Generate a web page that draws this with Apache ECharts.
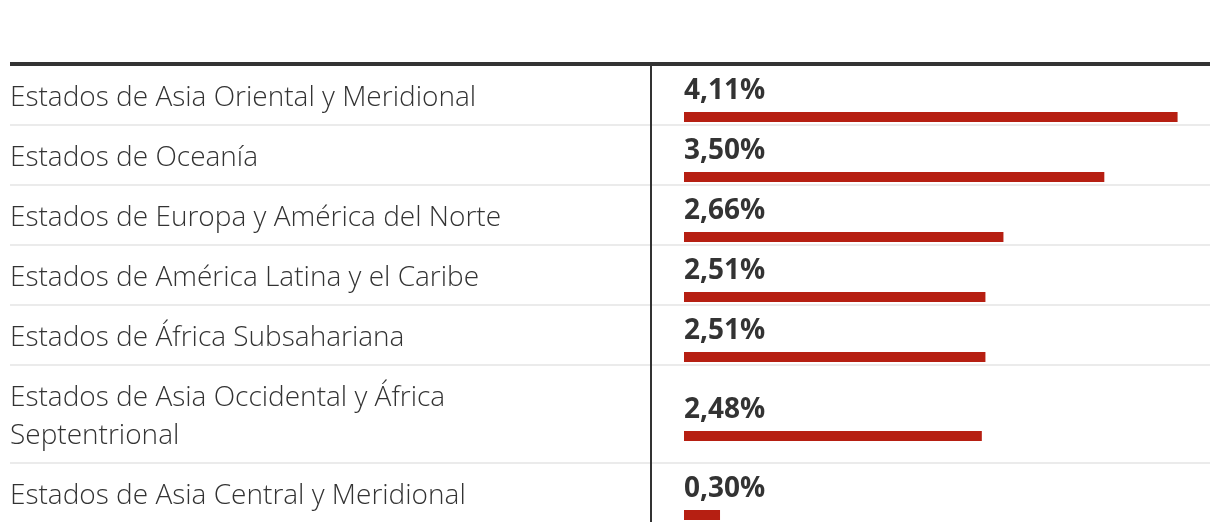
<!DOCTYPE html>
<html>
<head>
<meta charset="utf-8">
<script src="https://cdn.jsdelivr.net/npm/echarts@6/dist/echarts.min.js"></script>
<style>
html,body{margin:0;padding:0;background:#fff;}
#chart{width:1220px;height:532px;}
</style>
</head>
<body>
<div id="chart"></div>
<script>
const categories = [
  'Estados de Asia Oriental y Meridional',
  'Estados de Oceanía',
  'Estados de Europa y América del Norte',
  'Estados de América Latina y el Caribe',
  'Estados de África Subsahariana',
  'Estados de Asia Occidental y África Septentrional',
  'Estados de Asia Central y Meridional'
];
const values = [4.11, 3.50, 2.66, 2.51, 2.51, 2.48, 0.30];

const FONT = "'Open Sans', 'Noto Sans', sans-serif";
const LABEL_FONT_SIZE = 28;
const LINE_H = 38;
const WRAP_W = 560;
const ROW_H = 60;
const TOP = 65;
const LEFT_X = 10;
const RIGHT_X = 1210;
const DIVIDER_X = 651;
const BAR_LEFT = 684;
const BAR_SHIFT = 44;
const LABEL_SHIFT = 3;

const ctx = document.createElement('canvas').getContext('2d');
ctx.font = '300 ' + LABEL_FONT_SIZE + 'px ' + FONT;
function wrap(text) {
  const words = text.split(' ');
  const lines = [];
  let cur = '';
  words.forEach(w => {
    const t = cur ? cur + ' ' + w : w;
    if (ctx.measureText(t).width > WRAP_W && cur) { lines.push(cur); cur = w; }
    else cur = t;
  });
  if (cur) lines.push(cur);
  return lines;
}

const grids = [], xAxes = [], yAxes = [], series = [], graphics = [];
let y = TOP;
categories.forEach((cat, i) => {
  const lines = wrap(cat);
  const h = ROW_H + (lines.length - 1) * LINE_H;
  const gL = grids.length;
  // label grid: spans the whole row
  grids.push({ left: BAR_LEFT, right: 10, top: y + LABEL_SHIFT, height: h });
  xAxes.push({ gridIndex: gL, type: 'value', min: 0, max: 4.38, show: false });
  yAxes.push({
    gridIndex: gL, type: 'category', data: [lines.join('\n')],
    axisLine: { show: false }, axisTick: { show: false }, splitLine: { show: false },
    axisLabel: {
      align: 'left', margin: BAR_LEFT - LEFT_X, fontFamily: FONT, fontWeight: 300,
      fontSize: LABEL_FONT_SIZE, lineHeight: LINE_H, color: '#333', verticalAlign: 'middle'
    }
  });
  // bar grid: lower part of the row
  const gB = grids.length;
  grids.push({ left: BAR_LEFT, right: 10, top: y + BAR_SHIFT, height: h - BAR_SHIFT });
  xAxes.push({ gridIndex: gB, type: 'value', min: 0, max: 4.38, show: false });
  yAxes.push({ gridIndex: gB, type: 'category', data: [cat], show: false });
  series.push({
    type: 'bar', xAxisIndex: gB, yAxisIndex: gB, data: [values[i]], barWidth: 10,
    itemStyle: { color: '#b61f12' },
    label: {
      show: true, position: [0, -7], align: 'left', verticalAlign: 'bottom',
      fontFamily: FONT, fontWeight: 'bold', fontSize: 28, lineHeight: 28, color: '#333',
      formatter: p => p.value.toFixed(2).replace('.', ',') + '%'
    }
  });
  y += h;
  if (i < categories.length - 1) {
    graphics.push({ type: 'rect', shape: { x: LEFT_X, y: y - 1, width: RIGHT_X - LEFT_X, height: 2 }, style: { fill: '#ebebeb' }, z: 1 });
  }
});
graphics.push({ type: 'rect', shape: { x: LEFT_X, y: 62, width: RIGHT_X - LEFT_X, height: 4 }, style: { fill: '#333' }, z: 2 });
graphics.push({ type: 'rect', shape: { x: DIVIDER_X - 1, y: 66, width: 2, height: y - 1 - 66 }, style: { fill: '#333' }, z: 2 });

const chart = echarts.init(document.getElementById('chart'), null, { renderer: 'canvas' });
chart.setOption({
  animation: false,
  grid: grids, xAxis: xAxes, yAxis: yAxes, series: series, graphic: graphics
});
</script>
</body>
</html>
